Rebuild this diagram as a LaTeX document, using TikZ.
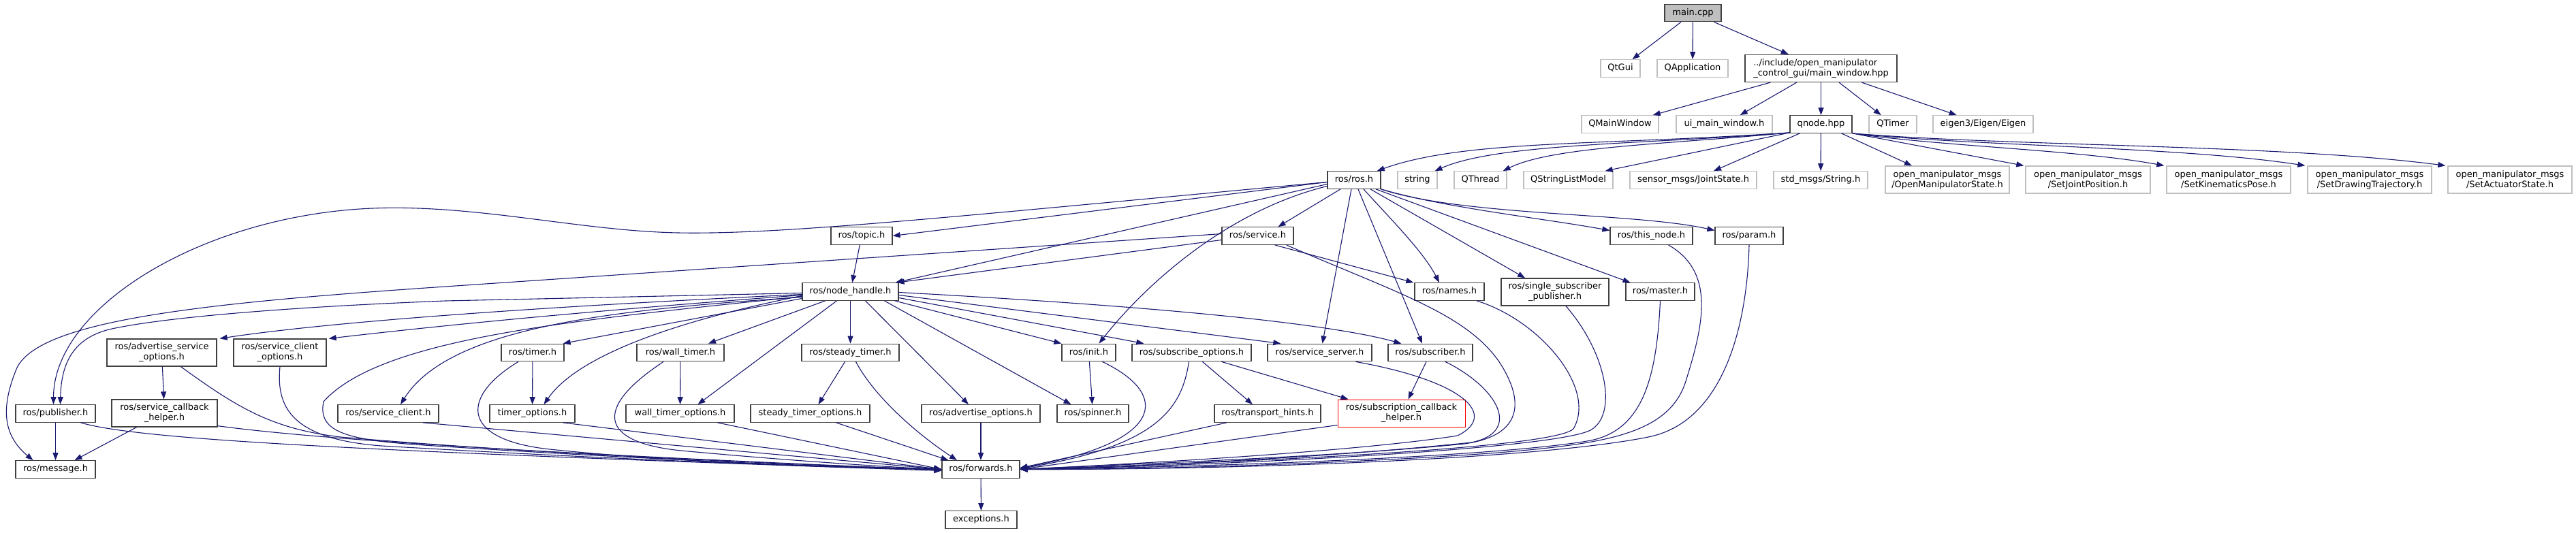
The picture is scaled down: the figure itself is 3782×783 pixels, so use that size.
\documentclass[tikz,border=0pt]{standalone}
\usepackage{fontspec}
\setmainfont{DejaVu Sans}
\usetikzlibrary{arrows.meta}
\definecolor{edgec}{HTML}{191970}
\definecolor{bordc}{HTML}{404040}
\definecolor{extc}{HTML}{BFBFBF}
\definecolor{redc}{HTML}{FF0000}
\tikzset{
  base/.style={rectangle, inner sep=0pt, align=center, font=\fontsize{13}{15}\selectfont, line width=1.3pt, fill=white},
  nd/.style={base, draw=bordc},
  ext/.style={base, draw=extc},
  mainn/.style={base, draw=bordc, fill=extc},
  redn/.style={base, draw=redc, line width=1pt},
  one/.style={minimum height=25.5pt, text height=9.5pt, text depth=3pt},
  two/.style={minimum height=40pt},
  dep/.style={draw=edgec, line width=1.1pt, -{Triangle[length=11pt,width=8pt]}},
}
\begin{document}
\begin{tikzpicture}[x=1pt,y=-1pt]
\path[fill=white] (0,0) rectangle (3782,783);
\useasboundingbox (0,0) rectangle (3782,783);
% row 0
\node[mainn,one,minimum width=83pt] (main) at (2485.5,19) {main.cpp};
% row 1
\node[ext,one,minimum width=58pt] (qtgui) at (2379,100.5) {QtGui};
\node[ext,one,minimum width=104pt] (qapp) at (2485,100.5) {QApplication};
\node[nd,two,minimum width=223pt,align=left] (mwh) at (2673.5,100.5) {../include/open\_manipulator\\\_control\_gui/main\_window.hpp};
% row 2
\node[ext,one,minimum width=113pt] (qmw) at (2378.5,182.5) {QMainWindow};
\node[ext,one,minimum width=141pt] (uimw) at (2531.5,182.5) {ui\_main\_window.h};
\node[nd,one,minimum width=91pt] (qnode) at (2673.5,182.5) {qnode.hpp};
\node[ext,one,minimum width=70pt] (qtimer) at (2779,182.5) {QTimer};
\node[ext,one,minimum width=147pt] (eigen) at (2911.5,182.5) {eigen3/Eigen/Eigen};
% row 3
\node[nd,one,minimum width=78pt] (rosh) at (1988,264.5) {ros/ros.h};
\node[ext,one,minimum width=58pt] (string) at (2081,264.5) {string};
\node[ext,one,minimum width=77pt] (qthread) at (2173.5,264.5) {QThread};
\node[ext,one,minimum width=131pt] (qslm) at (2302.5,264.5) {QStringListModel};
\node[ext,one,minimum width=186pt] (joint) at (2486,264.5) {sensor\_msgs/JointState.h};
\node[ext,one,minimum width=138pt] (stdstr) at (2673,264.5) {std\_msgs/String.h};
\node[ext,two,minimum width=182pt] (oms) at (2859,264) {open\_manipulator\_msgs\\/OpenManipulatorState.h};
\node[ext,two,minimum width=183pt] (sjp) at (3065.5,264) {open\_manipulator\_msgs\\/SetJointPosition.h};
\node[ext,two,minimum width=182pt] (skp) at (3272,264) {open\_manipulator\_msgs\\/SetKinematicsPose.h};
\node[ext,two,minimum width=182pt] (sdt) at (3479,264) {open\_manipulator\_msgs\\/SetDrawingTrajectory.h};
\node[ext,two,minimum width=182pt] (sas) at (3685,264) {open\_manipulator\_msgs\\/SetActuatorState.h};
% row 4
\node[nd,one,minimum width=90pt] (topic) at (1265,346.5) {ros/topic.h};
\node[nd,one,minimum width=105pt] (service) at (1846.5,346.5) {ros/service.h};
\node[nd,one,minimum width=121pt] (thisnode) at (2424.5,346.5) {ros/this\_node.h};
\node[nd,one,minimum width=100pt] (param) at (2568,346.5) {ros/param.h};
% row 5
\node[nd,one,minimum width=141pt] (nh) at (1248.5,428.5) {ros/node\_handle.h};
\node[nd,one,minimum width=102pt] (names) at (2128,428.5) {ros/names.h};
\node[nd,two,minimum width=158pt] (ssp) at (2283,429) {ros/single\_subscriber\\\_publisher.h};
\node[nd,one,minimum width=101pt] (master) at (2437.5,428.5) {ros/master.h};
% row 6
\node[nd,two,minimum width=161pt] (aso) at (237.5,518) {ros/advertise\_service\\\_options.h};
\node[nd,two,minimum width=136pt] (sco) at (411,518) {ros/service\_client\\\_options.h};
\node[nd,one,minimum width=92pt] (timer) at (782,518) {ros/timer.h};
\node[nd,one,minimum width=128pt] (walltimer) at (999,518) {ros/wall\_timer.h};
\node[nd,one,minimum width=143pt] (steadytimer) at (1248.5,518) {ros/steady\_timer.h};
\node[nd,one,minimum width=79pt] (init) at (1598.5,518) {ros/init.h};
\node[nd,one,minimum width=175pt] (subopt) at (1749.5,518) {ros/subscribe\_options.h};
\node[nd,one,minimum width=153pt] (srvserver) at (1937.5,518) {ros/service\_server.h};
\node[nd,one,minimum width=124pt] (subscriber) at (2100,518) {ros/subscriber.h};
% row 7
\node[nd,one,minimum width=117pt] (publisher) at (81.5,607.5) {ros/publisher.h};
\node[nd,two,minimum width=155pt] (sch) at (241.5,607) {ros/service\_callback\\\_helper.h};
\node[nd,one,minimum width=148pt] (srvclient) at (570,607.5) {ros/service\_client.h};
\node[nd,one,minimum width=125pt] (timeropt) at (781.5,607.5) {timer\_options.h};
\node[nd,one,minimum width=159pt] (wallopt) at (998.5,607.5) {wall\_timer\_options.h};
\node[nd,one,minimum width=175pt] (steadyopt) at (1189.5,607.5) {steady\_timer\_options.h};
\node[nd,one,minimum width=174pt] (advopt) at (1440,607.5) {ros/advertise\_options.h};
\node[nd,one,minimum width=105pt] (spinner) at (1604.5,607.5) {ros/spinner.h};
\node[nd,one,minimum width=156pt] (transport) at (1861,607.5) {ros/transport\_hints.h};
\node[redn,two,minimum width=187pt] (subcb) at (2057.5,607) {ros/subscription\_callback\\\_helper.h};
% row 8
\node[nd,one,minimum width=117pt] (message) at (81.5,689.5) {ros/message.h};
\node[nd,one,minimum width=114pt] (forwards) at (1440,689.5) {ros/forwards.h};
% row 9
\node[nd,one,minimum width=105pt] (exceptions) at (1440.5,763.5) {exceptions.h};

% ---- edges: top
\draw[dep] (main) -- (qtgui);
\draw[dep] (main) -- (qapp);
\draw[dep] (main) -- (mwh);
\draw[dep] (mwh) -- (qmw);
\draw[dep] (mwh) -- (uimw);
\draw[dep] (mwh) -- (qnode);
\draw[dep] (mwh) -- (qtimer);
\draw[dep] (mwh) -- (eigen);
% qnode
\draw[dep] ([yshift=1]qnode.south west) .. controls (2350,214) and (2150,205) .. ([xshift=-6]rosh.north east);
\draw[dep] ([yshift=1]qnode.south west) .. controls (2420,212) and (2200,210) .. ([xshift=-4]string.north east);
\draw[dep] ([yshift=1]qnode.south west) .. controls (2450,212) and (2280,215) .. ([xshift=-6]qthread.north east);
\draw[dep] ([yshift=1]qnode.south west) -- ([xshift=-12]qslm.north east);
\draw[dep] ([xshift=15]qnode.south west) -- ([xshift=30]joint.north);
\draw[dep] (qnode) -- (stdstr);
\draw[dep] ([xshift=30]qnode.south) -- ([xshift=-52]oms.north);
\draw[dep] (qnode.south east) -- ([xshift=-2]sjp.north west);
\draw[dep] (qnode.south east) .. controls (2850,215) and (3050,220) .. ([xshift=-3]skp.north west);
\draw[dep] (qnode.south east) .. controls (2900,215) and (3200,215) .. ([xshift=-3]sdt.north west);
\draw[dep] (qnode.south east) .. controls (2950,215) and (3350,212) .. ([xshift=-3]sas.north west);
% ros.h
\draw[dep] ([yshift=-3]rosh.west) -- (topic.east);
\draw[dep] ([yshift=-3]rosh.west) .. controls (1400,318) and (1150,345) .. (995,342) .. controls (850,339) and (700,300) .. (547,306) .. controls (300,316) and (79,450) .. ([xshift=-3]publisher.north);
\draw[dep] ([yshift=-6]rosh.west) -- ([xshift=-5]nh.north east);
\draw[dep] ([yshift=-9]rosh.west) .. controls (1800,310) and (1680,420) .. ([xshift=15]init.north);
\draw[dep] ([xshift=-20]rosh.south) -- ([xshift=30]service.north);
\draw[dep] ([xshift=-4]rosh.south) -- ([xshift=4]srvserver.north);
\draw[dep] ([xshift=6]rosh.south) -- ([xshift=-12]subscriber.north);
\draw[dep] ([xshift=14]rosh.south) .. controls (2040,320) and (2090,370) .. ([xshift=-15]names.north);
\draw[dep] ([xshift=24]rosh.south) -- ([xshift=-44]ssp.north);
\draw[dep] ([xshift=32]rosh.south) -- ([xshift=-44]master.north);
\draw[dep] (rosh.south east) .. controls (2120,305) and (2260,320) .. ([yshift=8]thisnode.west);
\draw[dep] (rosh.south east) .. controls (2150,318) and (2400,312) .. ([yshift=8]param.west);
% service.h
\draw[dep] ([yshift=-6]service.west) -- ([xshift=-3]nh.north east);
\draw[dep] ([yshift=3]service.west) -- (654,421) .. controls (300,445) and (60,470) .. (25,540) .. controls (0,600) and (5,640) .. ([xshift=-33]message.north);
\draw[dep] ([xshift=25]service.south) -- ([xshift=-1]names.north west);
\draw[dep] ([xshift=42]service.south) .. controls (2050,430) and (2150,460) .. (2200,530) .. controls (2240,590) and (2235,640) .. (2150,652) .. controls (1950,672) and (1650,682) .. (forwards.east);
% topic
\draw[dep] (topic) -- (nh);
% node_handle
\draw[dep] ([yshift=-2]nh.west) -- (654,442) .. controls (400,452) and (230,468) .. (160,484) .. controls (110,497) and (90,530) .. ([xshift=7]publisher.north);
\draw[dep] ([yshift=-4]nh.west) .. controls (700,455) and (450,478) .. ([xshift=4]aso.north east);
\draw[dep] ([yshift=-5]nh.west) .. controls (850,458) and (650,478) .. ([xshift=3]sco.north east);
\draw[dep] ([yshift=-8]nh.west) .. controls (900,455) and (660,480) .. ([xshift=18]srvclient.north);
\draw[dep] ([yshift=-7]nh.west) .. controls (850,470) and (560,495) .. (475,590) .. controls (465,640) and (520,648) .. (654,656) .. controls (900,672) and (1200,686) .. (forwards.west);
\draw[dep] ([yshift=-10]nh.west) -- ([xshift=-2]timer.north east);
\draw[dep] ([yshift=-6]nh.west) .. controls (1000,470) and (850,520) .. ([xshift=17]timeropt.north);
\draw[dep] ([xshift=-37]nh.south) -- ([xshift=41]walltimer.north);
\draw[dep] ([xshift=-20]nh.south) -- ([xshift=26]wallopt.north);
\draw[dep] (nh) -- (steadytimer);
\draw[dep] ([xshift=22]nh.south) -- ([xshift=-18]advopt.north);
\draw[dep] ([xshift=50]nh.south) -- ([xshift=-32]spinner.north);
\draw[dep] ([xshift=-6]nh.south east) -- (init.north west);
\draw[dep] ([yshift=-9]nh.east) -- ([xshift=18]subopt.north west);
\draw[dep] ([yshift=-5]nh.east) -- ([xshift=20]srvserver.north west);
\draw[dep] ([yshift=-1]nh.east) .. controls (1700,450) and (1950,475) .. ([xshift=20]subscriber.north west);
% steady timer
\draw[dep] ([xshift=-8]steadytimer.south) -- ([xshift=12]steadyopt.north);
\draw[dep] ([xshift=8]steadytimer.south) .. controls (1285,585) and (1350,640) .. ([xshift=-35]forwards.north);
\draw[dep] ([xshift=38]steadyopt.south) -- ([xshift=10]forwards.north west);
% timer
\draw[dep] (timer) -- (timeropt);
\draw[dep] ([xshift=-21]timer.south) .. controls (680,580) and (670,645) .. (807,660) .. controls (1000,680) and (1250,688) .. (forwards.west);
% wall timer
\draw[dep] (walltimer) -- (wallopt);
\draw[dep] ([xshift=-25]walltimer.south) .. controls (870,600) and (880,650) .. (1000,662) .. controls (1150,676) and (1300,686) .. (forwards.west);
\draw[dep] ([xshift=45]timeropt.south) -- (forwards.west);
\draw[dep] ([xshift=55]wallopt.south) -- (forwards.west);
\draw[dep] (advopt) -- (forwards);
% init
\draw[dep] (init) -- (spinner);
\draw[dep] ([xshift=20]init.south) .. controls (1720,580) and (1710,650) .. ([yshift=2]forwards.east);
% subscribe options
\draw[dep] ([xshift=-4]subopt.south) .. controls (1735,600) and (1700,655) .. ([yshift=1]forwards.east);
\draw[dep] ([xshift=16]subopt.south) -- ([xshift=-22]transport.north);
\draw[dep] ([xshift=44]subopt.south) -- ([xshift=16]subcb.north west);
\draw[dep] ([xshift=-60]transport.south) -- ([yshift=2]forwards.east);
\draw[dep] ([yshift=3]subcb.south west) -- (forwards.east);
% service server / subscriber
\draw[dep] ([xshift=53]srvserver.south) .. controls (2150,560) and (2200,610) .. (2140,640) .. controls (2000,662) and (1700,680) .. (forwards.east);
\draw[dep] ([xshift=-6]subscriber.south) -- ([xshift=10]subcb.north);
\draw[dep] ([xshift=22]subscriber.south) .. controls (2200,570) and (2235,635) .. (2160,650) .. controls (1950,672) and (1700,684) .. (forwards.east);
% names, ssp, master, this_node, param
\draw[dep] ([xshift=40]names.south) .. controls (2260,470) and (2345,570) .. (2310,630) .. controls (2280,660) and (1800,680) .. (forwards.east);
\draw[dep] ([xshift=16]ssp.south) .. controls (2360,520) and (2375,610) .. (2335,632) .. controls (2280,660) and (1800,684) .. (forwards.east);
\draw[dep] (master.south) .. controls (2432,560) and (2410,635) .. (2330,648) .. controls (2200,670) and (1800,686) .. (forwards.east);
\draw[dep] ([xshift=25]thisnode.south) .. controls (2520,400) and (2500,480) .. (2475,560) .. controls (2450,640) and (2350,652) .. (2200,665) .. controls (2000,680) and (1700,690) .. (forwards.east);
\draw[dep] (param.south) .. controls (2565,480) and (2530,620) .. (2420,642) .. controls (2250,676) and (1800,690) .. (forwards.east);
% left bottom
\draw[dep] (publisher) -- (message);
\draw[dep] ([xshift=37]publisher.south) .. controls (200,645) and (500,662) .. ([yshift=-2]forwards.west);
\draw[dep] ([xshift=-41]sch.south) -- ([xshift=28]message.north);
\draw[dep] ([yshift=2]sch.south east) .. controls (500,650) and (900,670) .. ([yshift=-1]forwards.west);
\draw[dep] (aso) -- (sch);
\draw[dep] ([xshift=28]aso.south) .. controls (350,600) and (400,630) .. (500,642) .. controls (800,668) and (1200,684) .. (forwards.west);
\draw[dep] (sco.south) .. controls (405,600) and (430,645) .. (560,655) .. controls (900,675) and (1200,686) .. (forwards.west);
\draw[dep] ([xshift=51]srvclient.south) -- (forwards.west);
\draw[dep] (forwards) -- (exceptions);
\end{tikzpicture}
\end{document}
